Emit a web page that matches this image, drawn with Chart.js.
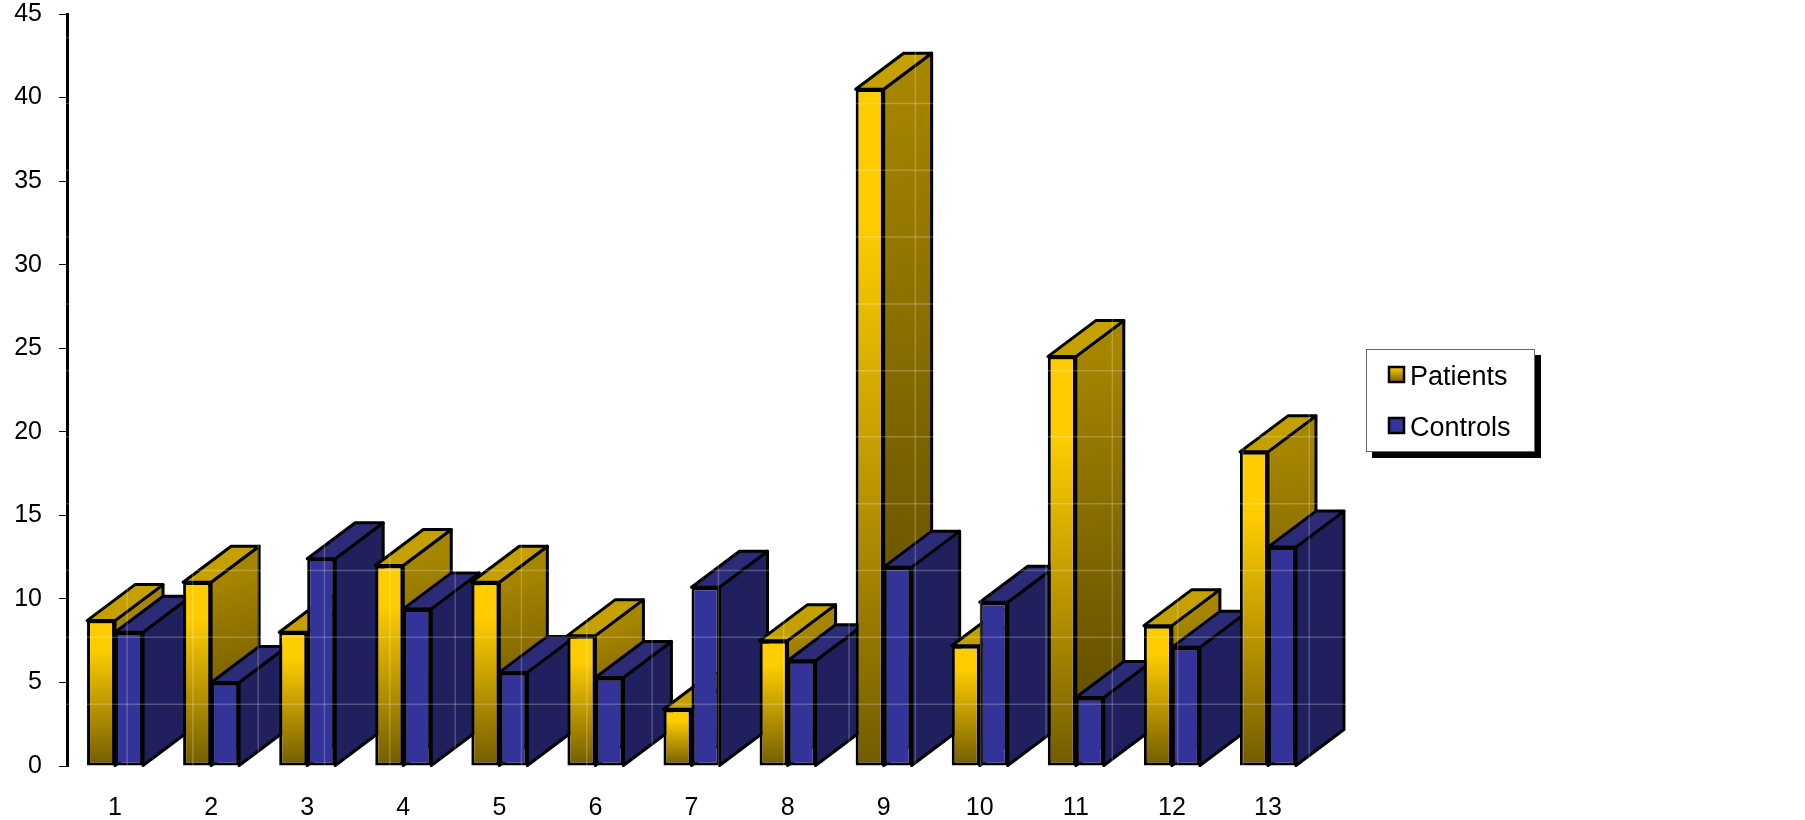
<!DOCTYPE html>
<html>
<head>
<meta charset="utf-8">
<title>Patients vs Controls</title>
<script src="https://cdn.jsdelivr.net/npm/chart.js@4/dist/chart.umd.min.js"></script>
<style>
  html, body { margin: 0; padding: 0; background: #fff; }
  canvas { display: block; }
</style>
</head>
<body>
<canvas id="barChart" width="1805" height="820"></canvas>
<script>
const categories = ["1", "2", "3", "4", "5", "6", "7", "8", "9", "10", "11", "12", "13"];
const patients = [8.7, 11, 8, 12, 11, 7.8, 3.4, 7.5, 40.5, 7.2, 24.5, 8.4, 18.8];
const controls = [8, 5, 12.4, 9.4, 5.6, 5.3, 10.7, 6.3, 11.9, 9.8, 4.1, 7.1, 13.1];

const FONT = '"Liberation Sans", Arial, sans-serif';
const DEPTH_X = 48;
const DEPTH_Y = 36;

// Faint white wall lines, they only show where they cross a bar
const wallLinesY = [3.7, 7.7, 11.7, 15.7, 19.7, 23.65, 27.65, 31.65, 35.65, 39.65, 43.6];
const wallLinesX = [0.125, 0.81, 1.49, 2.18, 2.86, 3.54, 4.23, 4.91, 5.59, 6.28, 6.96, 7.64, 8.33, 9.01, 9.69, 10.38, 11.06, 11.74, 12.43];

const faces = {
  Patients: { top: "#c4a000", sideFrom: "#a68500", sideTo: "#574500" },
  Controls: { top: "#2b2b78", sideFrom: "#20205f", sideTo: "#20205f" },
};

function patientsFill(context) {
  const chart = context.chart;
  if (!chart.chartArea || context.raw === undefined) return "#ffcc00";
  const y = chart.scales.y;
  const g = chart.ctx.createLinearGradient(0, y.getPixelForValue(context.raw), 0, y.getPixelForValue(0));
  g.addColorStop(0, "#ffcc00");
  g.addColorStop(0.2, "#ffcc00");
  g.addColorStop(1, "#735c00");
  return g;
}

function polygon(ctx, pts, fill) {
  ctx.beginPath();
  pts.forEach((p, i) => (i ? ctx.lineTo(p[0], p[1]) : ctx.moveTo(p[0], p[1])));
  ctx.closePath();
  ctx.fillStyle = fill;
  ctx.fill();
  ctx.stroke();
}

// Top and right side of one bar, the front face is the library's own bar
function drawDepth(ctx, bar, colors) {
  const left = bar.x - bar.width / 2;
  const right = bar.x + bar.width / 2;
  const side = ctx.createLinearGradient(right, bar.y, right + DEPTH_X, bar.base);
  side.addColorStop(0, colors.sideFrom);
  side.addColorStop(1, colors.sideTo);
  ctx.save();
  ctx.strokeStyle = "#000";
  ctx.lineWidth = 3;
  ctx.lineJoin = "round";
  polygon(ctx, [[right, bar.y], [right + DEPTH_X, bar.y - DEPTH_Y], [right + DEPTH_X, bar.base - DEPTH_Y], [right, bar.base]], side);
  polygon(ctx, [[left, bar.y], [left + DEPTH_X, bar.y - DEPTH_Y], [right + DEPTH_X, bar.y - DEPTH_Y], [right, bar.y]], colors.top);
  ctx.restore();
}

const boxes3d = {
  id: "boxes3d",
  // Paint left to right so nearer bars cover the sides of earlier ones
  beforeDatasetsDraw(chart) {
    const ctx = chart.ctx;
    categories.forEach((_, j) => {
      chart.data.datasets.forEach((ds, i) => {
        const bar = chart.getDatasetMeta(i).data[j];
        drawDepth(ctx, bar, faces[ds.label]);
        bar.draw(ctx);
      });
    });
    return false; // already drawn, skip the default pass
  },
  afterDraw(chart) {
    const ctx = chart.ctx;
    const { x, y } = chart.scales;
    const area = chart.chartArea;
    ctx.save();
    ctx.strokeStyle = "rgba(255,255,255,0.22)";
    ctx.lineWidth = 1.5;
    wallLinesY.forEach((v) => {
      ctx.beginPath();
      ctx.moveTo(area.left - 8, y.getPixelForValue(v));
      ctx.lineTo(area.right + DEPTH_X, y.getPixelForValue(v));
      ctx.stroke();
    });
    wallLinesX.forEach((v) => {
      ctx.beginPath();
      ctx.moveTo(x.getPixelForValue(v), area.top);
      ctx.lineTo(x.getPixelForValue(v), area.bottom);
      ctx.stroke();
    });
    ctx.restore();
    drawLegend(chart);
  },
};

function drawLegend(chart) {
  const ctx = chart.ctx;
  ctx.save();
  ctx.fillStyle = "#000";
  ctx.fillRect(1372, 355, 169, 103);
  ctx.fillStyle = "#fff";
  ctx.strokeStyle = "#666";
  ctx.lineWidth = 1;
  ctx.fillRect(1366.5, 349.5, 168, 102);
  ctx.strokeRect(1366.5, 349.5, 168, 102);
  const rows = [367, 418];
  chart.data.datasets.forEach((ds, i) => {
    const top = rows[i];
    if (ds.label === "Patients") {
      const g = ctx.createLinearGradient(0, top, 0, top + 16);
      g.addColorStop(0, "#ffcc00");
      g.addColorStop(1, "#735c00");
      ctx.fillStyle = g;
    } else {
      ctx.fillStyle = "#333399";
    }
    ctx.strokeStyle = "#000";
    ctx.lineWidth = 2.5;
    ctx.fillRect(1389, top, 15, 15);
    ctx.strokeRect(1389, top, 15, 15);
    ctx.fillStyle = "#000";
    ctx.font = "27px " + FONT;
    ctx.textBaseline = "alphabetic";
    ctx.fillText(ds.label, 1410, top + 18);
  });
  ctx.restore();
}

new Chart(document.getElementById("barChart"), {
  type: "bar",
  data: {
    labels: categories,
    datasets: [
      { label: "Patients", data: patients, backgroundColor: patientsFill },
      { label: "Controls", data: controls, backgroundColor: "#333399" },
    ],
  },
  options: {
    responsive: false,
    animation: false,
    layout: { padding: { top: 14, right: 489, left: 0, bottom: 0 } },
    datasets: {
      bar: {
        categoryPercentage: 0.583,
        barPercentage: 1,
        borderColor: "#000",
        borderWidth: 3,
        borderSkipped: false,
      },
    },
    plugins: {
      legend: { display: false },
      tooltip: { enabled: false },
    },
    scales: {
      x: {
        grid: { display: false },
        border: { display: false },
        ticks: { color: "#000", font: { family: FONT, size: 25 }, padding: 19 },
        afterFit: (scale) => { scale.height = 54; scale.paddingLeft = 0; scale.paddingRight = 0; },
      },
      y: {
        min: 0,
        max: 45,
        grid: { drawOnChartArea: false, drawTicks: true, tickLength: 8, color: "#000", lineWidth: 1 },
        border: { display: true, color: "#000", width: 3 },
        ticks: { stepSize: 5, color: "#000", font: { family: FONT, size: 25 }, padding: 17 },
        afterFit: (scale) => { scale.width = 67; scale.paddingTop = 0; scale.paddingBottom = 0; },
      },
    },
  },
  plugins: [boxes3d],
});
</script>
</body>
</html>
